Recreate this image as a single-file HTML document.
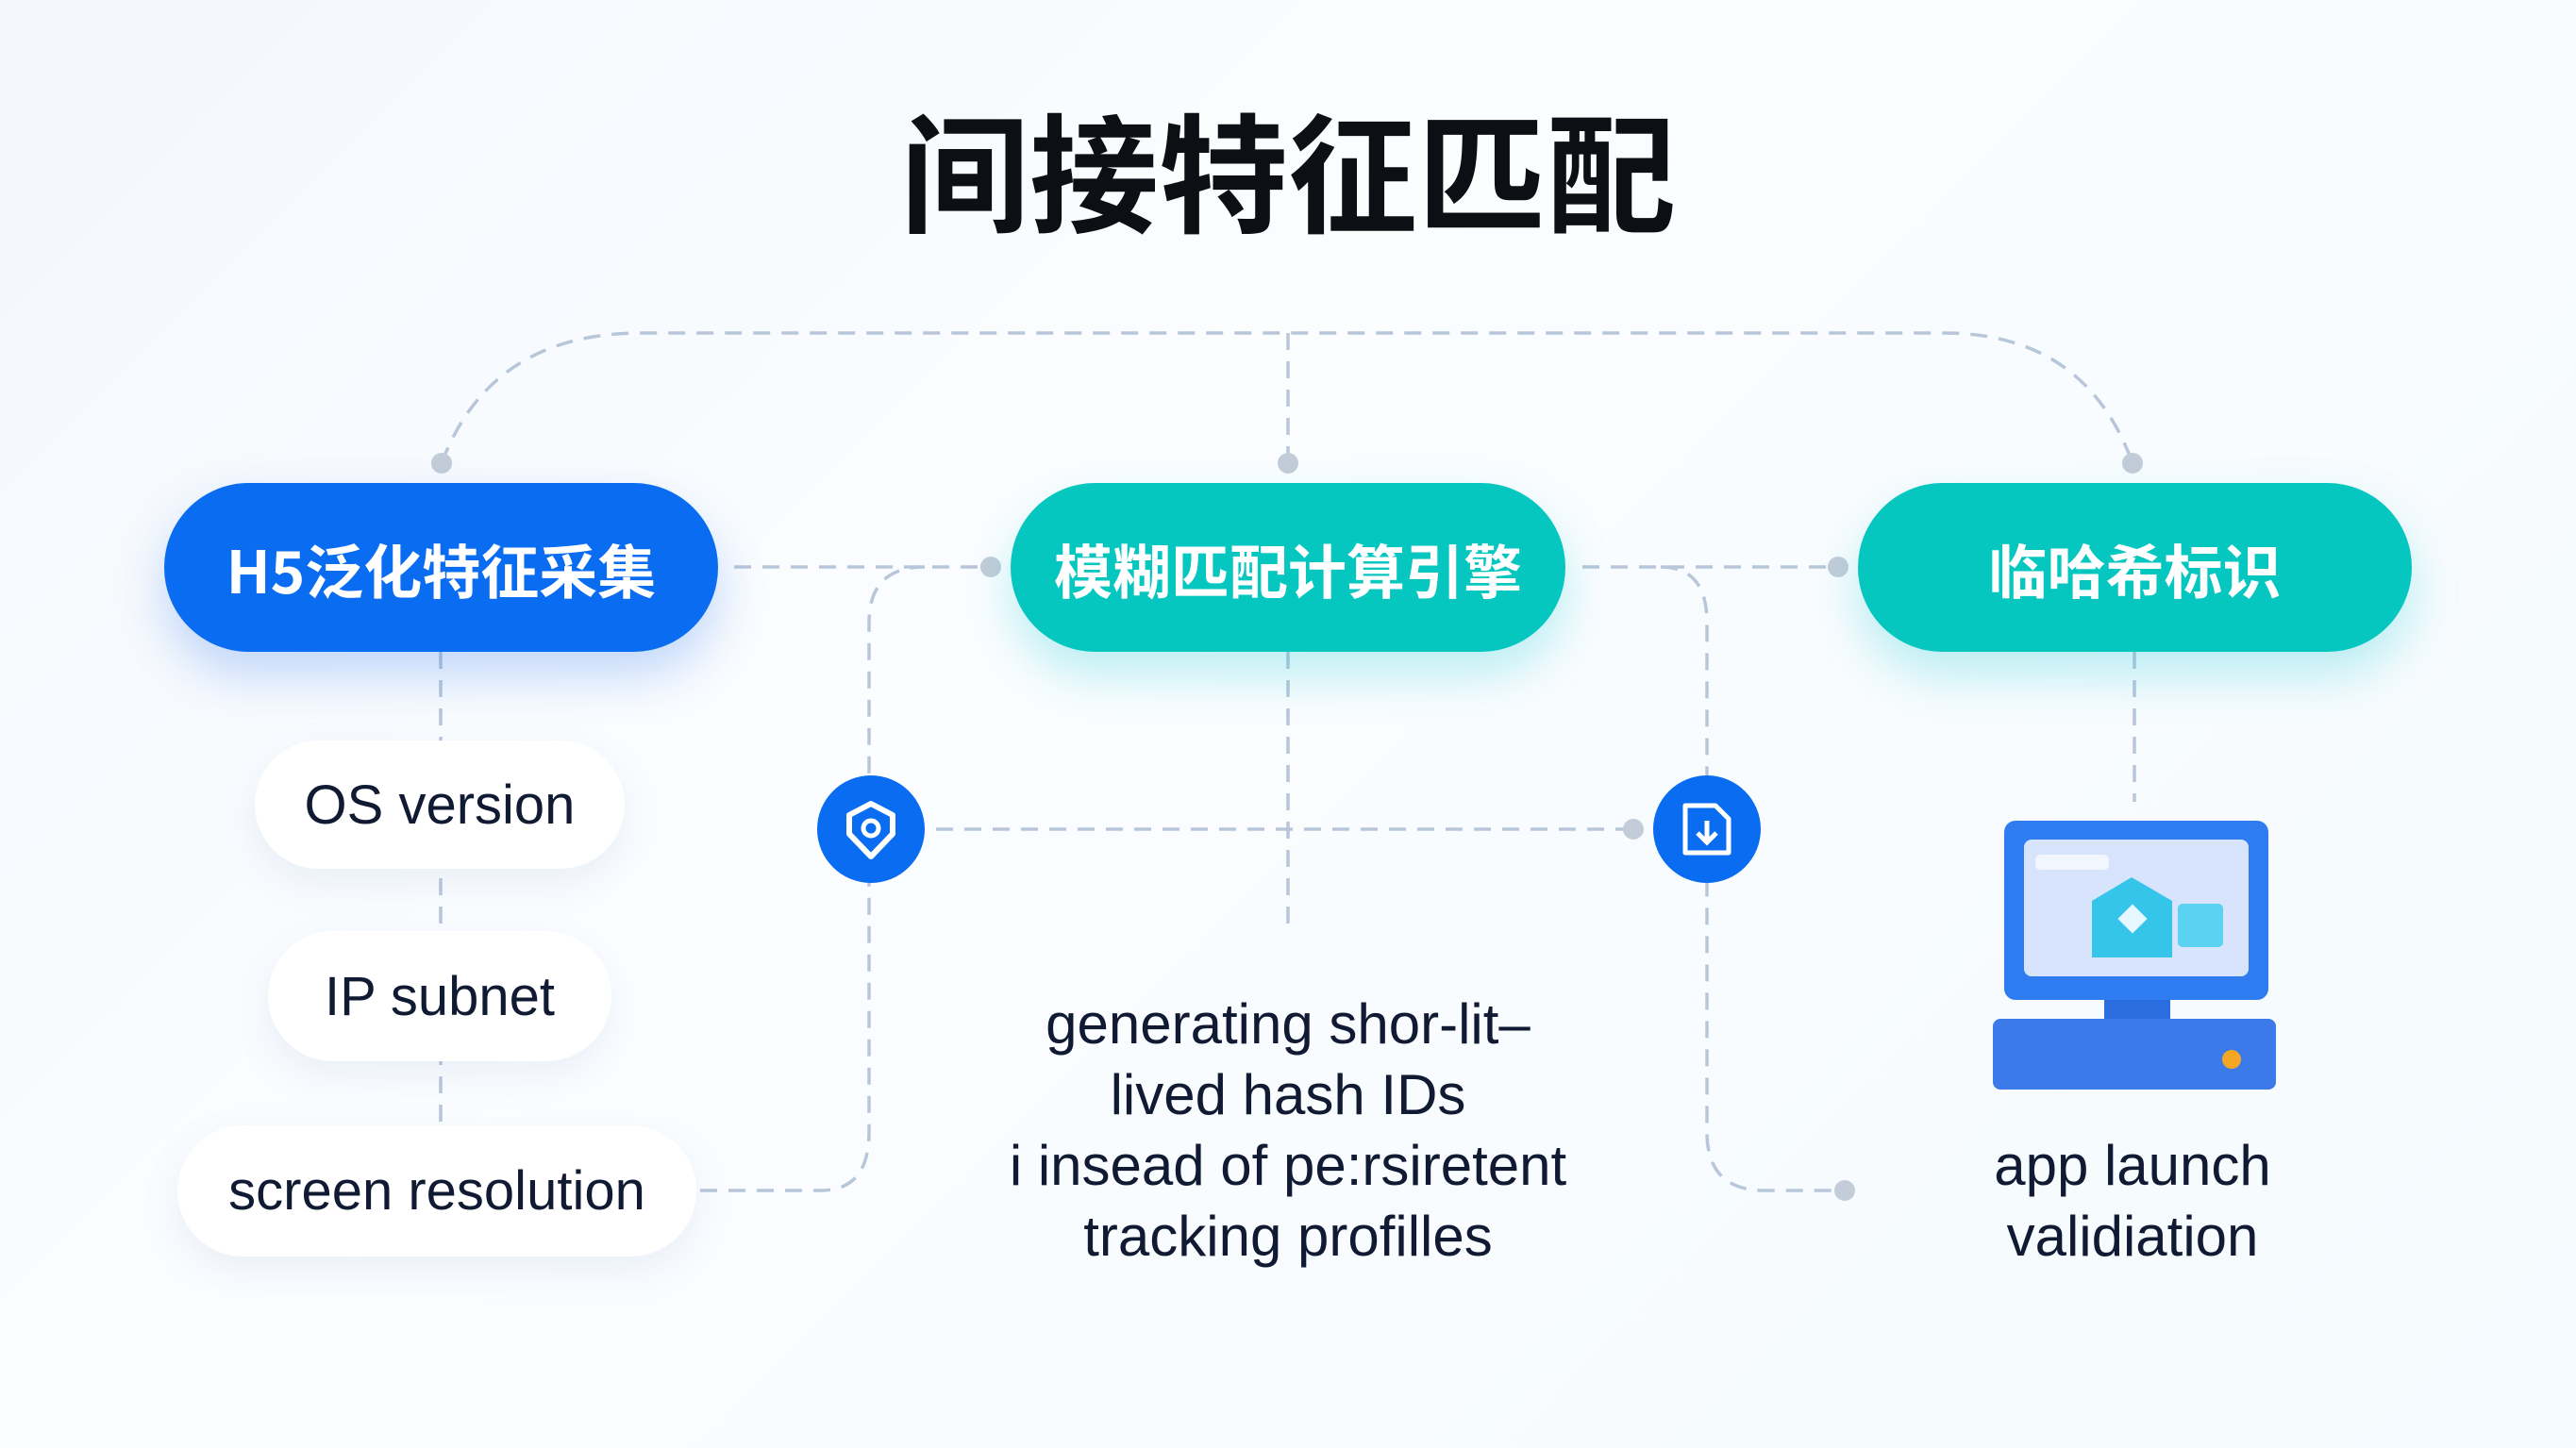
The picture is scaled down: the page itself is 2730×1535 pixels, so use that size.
<!DOCTYPE html>
<html><head><meta charset="utf-8"><style>
body{margin:0;width:2730px;height:1535px;overflow:hidden;background:linear-gradient(135deg,#f3f7fc 0%,#fbfdff 40%,#f4fafd 100%);font-family:"Liberation Sans","Noto Sans CJK SC",sans-serif;position:relative}
.t{position:absolute;left:0;width:2730px;text-align:center;top:92px;font-size:137px;font-weight:bold;color:#0d0f14;font-family:"Noto Sans CJK SC",sans-serif;line-height:170px}
.pill{position:absolute;top:512px;height:179px;border-radius:90px;color:#fff;font-size:62px;font-weight:bold;display:flex;align-items:center;justify-content:center;font-family:"Noto Sans CJK SC",sans-serif}
.p1{left:174px;width:587px;background:#0a6cf0;box-shadow:0 25px 50px rgba(30,110,240,.25)}
.p2{left:1071px;width:588px;background:#06c6c0;box-shadow:0 25px 50px rgba(0,200,210,.25)}
.p3{left:1969px;width:587px;background:#06c6c0;box-shadow:0 25px 50px rgba(0,200,210,.25)}
.sp{position:absolute;background:#fff;border-radius:70px;font-size:58px;color:#111a33;display:flex;align-items:center;justify-content:center;box-shadow:0 15px 40px rgba(120,150,200,.12)}
.txt{position:absolute;text-align:center;font-size:60px;color:#111a33;line-height:75px}
.ic{position:absolute;width:114px;height:114px;border-radius:57px;background:#0a6cf0;top:822px}
</style></head><body>
<div class="t">间接特征匹配</div>
<svg width="2730" height="1535" style="position:absolute;left:0;top:0">
<g fill="none" stroke="#b8c6da" stroke-width="3.5" stroke-dasharray="18 12">
<path d="M468 491 Q520 353 680 353 L2060 353 Q2210 353 2260 491"/>
<path d="M1365 353 V491"/>
<path d="M778 601 H1050"/>
<path d="M1677 601 H1948"/>
<path d="M467 691 V1193"/>
<path d="M742 1262 H870 Q921 1262 921 1200 V660 Q921 601 980 601"/>
<path d="M992 879 H1731"/>
<path d="M1365 691 V984"/>
<path d="M1760 601 Q1809 601 1809 660 V1200 Q1809 1262 1870 1262 H1955"/>
<path d="M2262 691 V850"/>
</g>
<g fill="#c3ccd8">
<circle cx="468" cy="491" r="11"/><circle cx="1365" cy="491" r="11"/><circle cx="2260" cy="491" r="11"/>
<circle cx="1050" cy="601" r="11"/><circle cx="1948" cy="601" r="11"/><circle cx="1731" cy="879" r="11"/><circle cx="1955" cy="1262" r="11"/>
</g>
</svg>
<div class="pill p1">H5泛化特征采集</div>
<div class="pill p2">模糊匹配计算引擎</div>
<div class="pill p3">临哈希标识</div>
<div class="sp" style="left:270px;top:785px;width:392px;height:136px">OS version</div>
<div class="sp" style="left:284px;top:987px;width:364px;height:138px">IP subnet</div>
<div class="sp" style="left:188px;top:1193px;width:550px;height:139px">screen resolution</div>
<div class="ic" style="left:866px"><svg width="114" height="114"><path d="M57 30 L80 42 L80 62 L57 86 L34 62 L34 42 Z" fill="none" stroke="#fff" stroke-width="6" stroke-linejoin="round"/><circle cx="57" cy="56" r="8" fill="none" stroke="#fff" stroke-width="5"/></svg></div>
<div class="ic" style="left:1752px"><svg width="114" height="114"><path d="M34 32 H66 L80 46 V82 H34 Z" fill="none" stroke="#fff" stroke-width="5" stroke-linejoin="round"/><path d="M57 48 V70 M47 61 L57 71 L67 61" fill="none" stroke="#fff" stroke-width="5"/></svg></div>
<div class="txt" style="left:1000px;width:730px;top:1048px">generating shor-lit–<br>lived hash IDs<br>i insead of pe:rsiretent<br>tracking profilles</div>
<svg style="position:absolute;left:2112px;top:870px" width="300" height="285">
<rect x="12" y="0" width="280" height="190" rx="12" fill="#2f7cf0"/>
<rect x="33" y="20" width="238" height="145" rx="8" fill="#d8e4fb"/>
<rect x="45" y="36" width="78" height="16" rx="5" fill="#f2f6ff"/>
<path d="M105 85 L147 60 L190 85 V145 H105 Z" fill="#35c5ea"/>
<rect x="137" y="93" width="22" height="22" transform="rotate(45 148 104)" fill="#e6f7ff"/>
<rect x="196" y="88" width="48" height="46" rx="5" fill="#5bd2f2"/>
<rect x="118" y="190" width="70" height="22" fill="#2a6de0"/>
<rect x="0" y="210" width="300" height="75" rx="8" fill="#3b7ae8"/>
<circle cx="253" cy="253" r="10" fill="#f5a623"/>
</svg>
<div class="txt" style="left:2060px;width:400px;top:1198px">app launch<br>validiation</div>
</body></html>
